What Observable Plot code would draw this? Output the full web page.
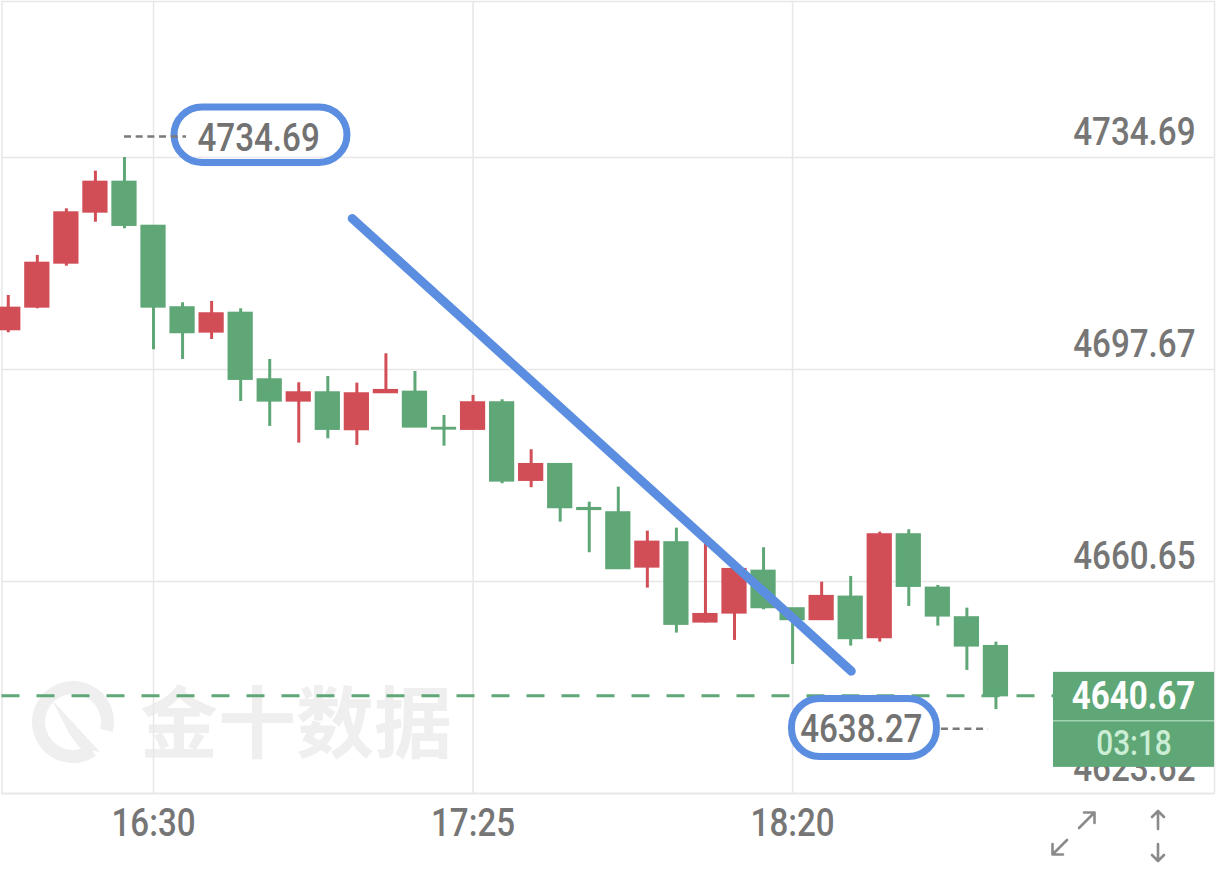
<!DOCTYPE html>
<html><head><meta charset="utf-8">
<script src="https://cdn.jsdelivr.net/npm/d3@7"></script>
<script src="https://cdn.jsdelivr.net/npm/@observablehq/plot@0.6"></script>
<style>
html,body{margin:0;padding:0;background:#fff;}
#chart{position:relative;width:1216px;height:872px;overflow:hidden;}
</style></head><body><div id="chart"></div>
<script>
// ---- data (5-minute candles) ----
const times  = ["16:05","16:10","16:15","16:20","16:25","16:30","16:35","16:40","16:45","16:50",
                "16:55","17:00","17:05","17:10","17:15","17:20","17:25","17:30","17:35","17:40",
                "17:45","17:50","17:55","18:00","18:05","18:10","18:15","18:20","18:25","18:30"];
const opens  = [4704.60,4708.55,4716.23,4725.14,4730.38,4722.69,4708.45,4704.19,4707.50,4695.87,
                4692.14,4693.60,4687.14,4693.60,4693.71,4687.40,4687.20,4691.86,4678.29,4681.08,
                4673.40,4672.65,4663.15,4667.42,4653.55,4655.12,4662.45,4655.89,4653.97,4657.92];
const highs  = [4710.59,4717.58,4725.73,4732.30,4734.69,4722.80,4709.32,4709.55,4708.27,4699.42,
                4695.35,4696.45,4695.28,4700.41,4697.32,4689.64,4693.13,4692.38,4683.65,4681.20,
                4674.50,4677.12,4669.44,4669.96,4667.34,4663.20,4666.54,4655.89,4660.53,4661.53];
const lows   = [4704.08,4708.27,4715.71,4723.39,4722.24,4701.11,4699.42,4702.91,4692.08,4687.72,
                4684.80,4685.57,4684.40,4693.60,4687.60,4684.28,4687.20,4677.71,4677.02,4671.01,
                4665.67,4662.87,4659.49,4651.63,4653.40,4650.35,4655.71,4646.16,4653.97,4649.36];
const closes = [4708.38,4716.23,4725.03,4730.38,4722.82,4708.55,4704.08,4707.40,4695.93,4692.14,
                4693.60,4687.20,4693.43,4694.01,4687.60,4687.25,4691.86,4678.17,4681.08,4673.52,
                4673.20,4662.87,4667.52,4653.15,4654.89,4662.75,4656.06,4653.97,4658.04,4650.65];
const times2 = ["18:35","18:40","18:45","18:50","18:55"];
const opens2 = [4650.82,4668.81,4659.49,4654.32,4649.30];
const highs2 = [4669.26,4669.68,4659.96,4655.99,4650.06];
const lows2  = [4650.06,4656.29,4652.85,4645.11,4638.27];
const closes2= [4668.81,4659.78,4654.60,4649.36,4640.67];

const yTicks = [4734.69, 4697.67, 4660.65, 4623.62];
const xTicks = ["16:30", "17:25", "18:20"];

const highMark = {time: "16:25", price: 4734.69};
const lowMark  = {time: "18:55", price: 4638.27};
const lastPrice = 4640.67;
const countdown = "03:18";

// hand-drawn annotations (in chart units)
const trendTimes  = ["17:04:12", "18:30:06"];
const trendPrices = [4724.04, 4644.99];
const boxTimes1  = ["16:33:37", "17:03:23"];
const boxPrices1 = [4733.73, 4743.42];
const boxTimes2  = ["18:19:54", "18:44:51"];
const boxPrices2 = [4630.00, 4640.12];

// ---- helpers ----
const toMin = s => { const p = s.split(":").map(Number); return p[0]*60 + p[1] + (p[2]||0)/60; };
const RED = "#d24e57", GREEN = "#5fa777", BLUE = "#5b8ee0", GRID = "#e7e7e7", TXT = "#767676";

const allTimes = times.concat(times2), allO = opens.concat(opens2), allH = highs.concat(highs2),
      allL = lows.concat(lows2), allC = closes.concat(closes2);
const candles = allTimes.map((t, i) => ({
  t: toMin(t), o: allO[i], h: allH[i], l: allL[i], c: allC[i],
  col: allC[i] > allO[i] ? RED : GREEN
}));
const trend = trendTimes.map((t, i) => ({t: toMin(t), p: trendPrices[i]}));
const boxes = [
  {x1: toMin(boxTimes1[0]), x2: toMin(boxTimes1[1]), y1: boxPrices1[0], y2: boxPrices1[1]},
  {x1: toMin(boxTimes2[0]), x2: toMin(boxTimes2[1]), y1: boxPrices2[0], y2: boxPrices2[1]}
];
const half = 2.0; // half body width in minutes

const FONT = "Roboto, 'DejaVu Sans', sans-serif";

const plot = Plot.plot({
  width: 1216, height: 872,
  marginTop: 1, marginLeft: 1.5, marginRight: 2, marginBottom: 79,
  style: {fontFamily: FONT, background: "transparent", overflow: "visible"},
  x: {domain: [963.92, 1172.62], axis: null},
  y: {domain: [4623.62, 4761.93], axis: null},
  color: {type: "identity"},
  marks: [
    Plot.gridY(yTicks, {stroke: GRID, strokeOpacity: 1, strokeWidth: 1.5}),
    Plot.gridX(xTicks.map(toMin), {stroke: GRID, strokeOpacity: 1, strokeWidth: 1.5}),
    Plot.frame({stroke: GRID, strokeWidth: 1.5}),
    Plot.text(yTicks, {y: d => d, text: d => d.toFixed(2), frameAnchor: "right", textAnchor: "end",
      dx: -19, dy: -25, fontSize: 39, fontWeight: 500, fill: TXT}),
    Plot.text(xTicks, {x: d => toMin(d), text: d => d, frameAnchor: "bottom", dy: 42, fontSize: 39, fontWeight: 500, fill: TXT}),
    Plot.ruleY([lastPrice], {stroke: GREEN, strokeWidth: 3, strokeDasharray: "18,17"}),
    Plot.ruleX(candles, {x: "t", y1: "l", y2: "h", stroke: "col", strokeWidth: 3}),
    Plot.rect(candles, {x1: d => d.t - half, x2: d => d.t + half, y1: "o", y2: "c", fill: "col", stroke: "col", strokeWidth: 2}),
    Plot.line(trend, {x: "t", y: "p", stroke: BLUE, strokeWidth: 9, strokeLinecap: "round"}),
    Plot.rect(boxes, {x1: "x1", x2: "x2", y1: "y1", y2: "y2", rx: 28, fill: "none", stroke: BLUE, strokeWidth: 7}),
    Plot.text([highMark], {x: d => toMin(d.time), y: "price", text: d => d.price.toFixed(2), textAnchor: "start",
      dx: 73, dy: -18.6, fontSize: 39, fontWeight: 500, fill: "#727272"}),
    Plot.text([lowMark], {x: d => toMin(d.time), y: "price", text: d => d.price.toFixed(2), textAnchor: "end",
      dx: -73.5, dy: 19.7, fontSize: 39, fontWeight: 500, fill: "#727272"})
  ]
});
document.getElementById("chart").appendChild(plot);

const svg = d3.select(plot);
const sx = plot.scale("x"), sy = plot.scale("y");
const X = d3.scaleLinear(sx.domain, sx.range), Y = d3.scaleLinear(sy.domain, sy.range);

// leader dotted lines for high/low markers
const lead = svg.append("g").attr("stroke", "#7a7a7a").attr("stroke-width", 2.5).attr("stroke-dasharray", "7,4.7");
const hx = X(toMin(highMark.time)), hy = Y(highMark.price) - 20.5;
lead.append("line").attr("x1", hx).attr("x2", hx + 62).attr("y1", hy).attr("y2", hy);
const lx = X(toMin(lowMark.time)), ly = Y(lowMark.price) + 19.6;
lead.append("line").attr("x1", lx - 54.5).attr("x2", lx - 7.5).attr("y1", ly).attr("y2", ly);

// last price tag
const yp = Y(lastPrice);
const tag = svg.append("g");
tag.append("rect").attr("x", 1053).attr("y", yp - 23.5).attr("width", 161).attr("height", 95).attr("fill", GREEN);
tag.append("line").attr("x1", 1053).attr("x2", 1214).attr("y1", yp + 25.5).attr("y2", yp + 25.5)
  .attr("stroke", "#a3d4b1").attr("stroke-width", 1.5);
tag.append("text").attr("x", 1133.5).attr("y", yp + 13.5).attr("text-anchor", "middle")
  .attr("font-size", 39).attr("font-weight", 700).attr("fill", "#ffffff").text(lastPrice.toFixed(2));
tag.append("text").attr("x", 1134).attr("y", yp + 60).attr("text-anchor", "middle")
  .attr("font-size", 35).attr("font-weight", 500).attr("fill", "#cbeed5").text(countdown);

// condense all numeric labels (DIN-like look)
function condense() {
  svg.selectAll("text").filter(function(){ return !this.classList.contains("wm"); }).each(function () {
    this.removeAttribute("textLength");
    const w = this.getComputedTextLength();
    if (w > 0) { this.setAttribute("textLength", (w * 0.85).toFixed(1)); this.setAttribute("lengthAdjust", "spacingAndGlyphs"); }
  });
}
condense();

// watermark (behind everything)
const wm = svg.insert("g", ":first-child").attr("fill", "#efefef");
wm.append("path").attr("transform", "translate(73,722)")
  .attr("d", d3.arc()({innerRadius: 28, outerRadius: 41, startAngle: 2.55, endAngle: 2.55 + 5.55}));
wm.append("path").attr("d", "M52,700 L100,752 L80,748 L70,735 Z");
wm.append("text").attr("class", "wm").attr("x", 140).attr("y", 752).attr("text-anchor", "start")
  .attr("font-family", "'Noto Sans CJK SC', sans-serif")
  .attr("font-size", 78).attr("font-weight", 700).text("金十数据");

// bottom-right control icons
const ic = svg.append("g").attr("stroke", "#8a8a8a").attr("stroke-width", 2.6).attr("fill", "none")
  .attr("stroke-linecap", "round").attr("stroke-linejoin", "round");
ic.append("path").attr("d", "M1079,828 L1094,813 M1084,812.5 L1094.5,812.5 L1094.5,823");
ic.append("path").attr("d", "M1067,840 L1053,854 M1052.5,844 L1052.5,854.5 L1063,854.5");
ic.append("path").attr("d", "M1158,812 L1158,829 M1152,817 L1158,811 L1164,817");
ic.append("path").attr("d", "M1158,844 L1158,861 M1152,855 L1158,861 L1164,855");

if (document.fonts && document.fonts.ready) document.fonts.ready.then(condense);
</script></body></html>
